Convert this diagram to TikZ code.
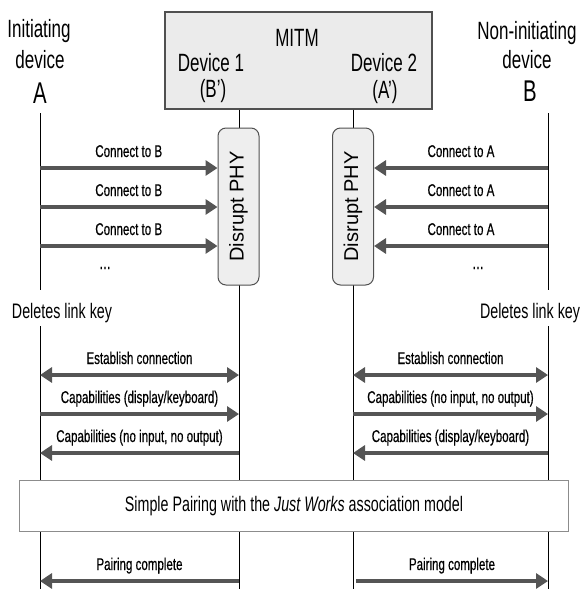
\documentclass[tikz,border=0pt]{standalone}
\usepackage{fontspec}
\setmainfont{Liberation Sans}[FakeStretch=0.68]
\newfontfamily\lblfont{Liberation Sans}[FakeStretch=0.68,FakeBold=0.5]
\newfontfamily\phyfont{Liberation Sans}
\usetikzlibrary{arrows.meta}
\definecolor{msggray}{HTML}{555555}
\definecolor{boxgray}{HTML}{EBEBEB}
\definecolor{phygray}{HTML}{EEEEEE}
\definecolor{edgegray}{HTML}{505050}
\definecolor{framegray}{HTML}{8C8C8C}
\tikzset{
  lifeline/.style={draw=black,line width=0.9pt},
  msg/.style={draw=msggray,line width=3.2pt,-{Triangle[length=12pt,width=15pt]}},
  msgboth/.style={draw=msggray,line width=3.2pt,{Triangle[length=12pt,width=15pt]}-{Triangle[length=12pt,width=15pt]}},
  lbl/.style={midway,anchor=base,yshift=11pt,inner sep=0pt,font=\lblfont\fontsize{17}{20}\selectfont},
  hdr/.style={anchor=base,inner sep=0pt,font=\fontsize{25}{29}\selectfont},
  big/.style={anchor=base,inner sep=0pt,font=\fontsize{30}{33}\selectfont},
  note/.style={anchor=base,inner sep=0pt,font=\fontsize{21}{25}\selectfont},
  dots/.style={inner sep=0pt,font=\lblfont\fontsize{20}{24}\selectfont},
  phybox/.style={draw=edgegray,fill=phygray,line width=1pt,rounded corners=8pt,
    rotate=90,minimum width=157pt,minimum height=41pt,inner sep=0pt,
    font=\phyfont\fontsize{20}{24}\selectfont},
}
\begin{document}
\begin{tikzpicture}[x=1pt,y=-1pt]
\useasboundingbox (0,0) rectangle (583,589);

% MITM box with the two relay devices
\node[draw=edgegray,fill=boxgray,line width=1.2pt,minimum width=267pt,minimum height=97pt,inner sep=0pt]
  (mitm) at (298.5,60.5) {};
\node[hdr] (mitmlbl) at (297,46) {MITM};
\node[hdr] (dev1) at (211,71) {Device 1};
\node[hdr] (dev1id) at (213,97) {(B')};
\node[hdr] (dev2) at (384,71) {Device 2};
\node[hdr] (dev2id) at (385,98) {(A')};

% end devices
\node[hdr] (iniA) at (39,37) {Initiating};
\node[hdr] (devA) at (40,68) {device};
\node[big] (lblA) at (40,103) {A};
\node[hdr] (iniB) at (527,39) {Non-initiating};
\node[hdr] (devB) at (527,68) {device};
\node[big] (lblB) at (530,101) {B};

% lifelines
\coordinate (Atop) at (40,113);
\coordinate (Abrk) at (40,290);
\coordinate (Ares) at (40,326);
\coordinate (Abot) at (40,589);
\coordinate (Btop) at (548,113);
\coordinate (Bbrk) at (548,290);
\coordinate (Bres) at (548,326);
\coordinate (Bbot) at (548,589);
\coordinate (D1bot) at (239,589);
\coordinate (D2bot) at (353,589);
\draw[lifeline] (Atop) -- (Abrk);
\draw[lifeline] (Ares) -- (Abot);
\draw[lifeline] (Btop) -- (Bbrk);
\draw[lifeline] (Bres) -- (Bbot);
\draw[lifeline] (D1bot |- mitm.south) -- (D1bot);
\draw[lifeline] (D2bot |- mitm.south) -- (D2bot);

% PHY disruption bars
\node[phybox] (phy1) at (238.5,206.5) {Disrupt PHY};
\node[phybox] (phy2) at (353,206.5) {Disrupt PHY};

% message rows
\coordinate (r1) at (0,168);
\coordinate (r2) at (0,207);
\coordinate (r3) at (0,246);
\coordinate (r4) at (0,375);
\coordinate (r5) at (0,414);
\coordinate (r6) at (0,453);
\coordinate (r7) at (0,581);

% repeated connection attempts
\draw[msg] (Abot |- r1) -- node[lbl] {Connect to B} (phy1.north |- r1);
\draw[msg] (Abot |- r2) -- node[lbl] {Connect to B} (phy1.north |- r2);
\draw[msg] (Abot |- r3) -- node[lbl] {Connect to B} (phy1.north |- r3);
\draw[msg] (Bbot |- r1) -- node[lbl] {Connect to A} (phy2.south |- r1);
\draw[msg] (Bbot |- r2) -- node[lbl] {Connect to A} (phy2.south |- r2);
\draw[msg] (Bbot |- r3) -- node[lbl] {Connect to A} (phy2.south |- r3);
\node[dots] (moreA) at (105,268) {...};
\node[dots] (moreB) at (478,268) {...};

\node[note] (delA) at (62,318) {Deletes link key};
\node[note] (delB) at (530,318) {Deletes link key};

% connection setup and capability exchange
\draw[msgboth] (Abot |- r4) -- node[lbl] {Establish connection} (D1bot |- r4);
\draw[msg] (Abot |- r5) -- node[lbl] {Capabilities (display/keyboard)} (D1bot |- r5);
\draw[msg] (D1bot |- r6) -- node[lbl] {Capabilities (no input, no output)} (Abot |- r6);
\draw[msgboth] (D2bot |- r4) -- node[lbl] {Establish connection} (Bbot |- r4);
\draw[msg] (D2bot |- r5) -- node[lbl] {Capabilities (no input, no output)} (Bbot |- r5);
\draw[msg] (Bbot |- r6) -- node[lbl] {Capabilities (display/keyboard)} (D2bot |- r6);

% pairing phase
\node[draw=framegray,fill=white,line width=1pt,minimum width=549pt,minimum height=51pt,inner sep=0pt,
  font=\fontsize{21}{25}\selectfont] (pairing) at (294,506)
  {Simple Pairing with the \textit{Just Works} association model};

\draw[msg] (D1bot |- r7) -- node[lbl] {Pairing complete} (Abot |- r7);
\draw[msg] ([xshift=3pt]D2bot |- r7) -- node[lbl] {Pairing complete} (Bbot |- r7);
\end{tikzpicture}
\end{document}
